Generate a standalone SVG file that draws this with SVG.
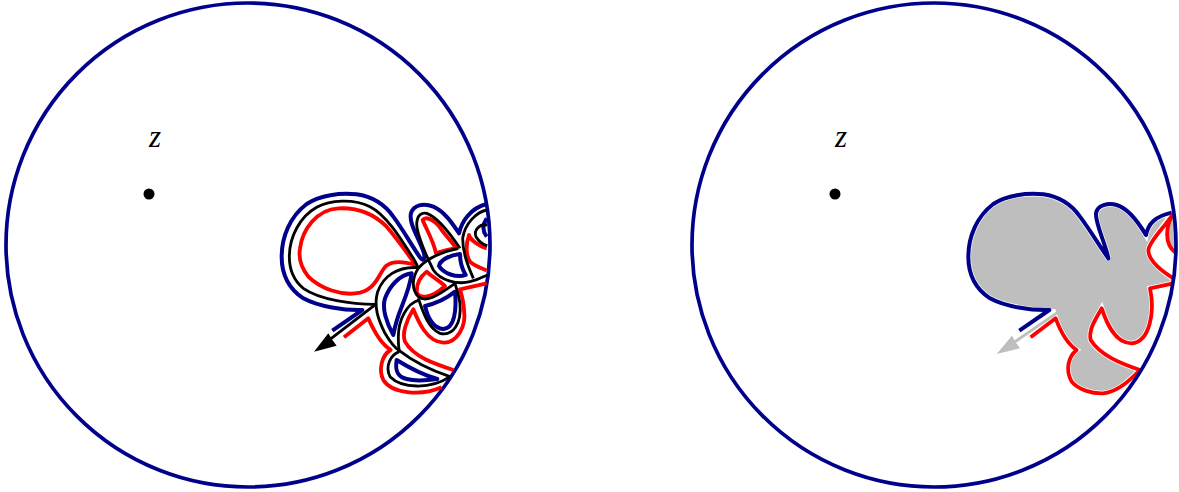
<svg xmlns="http://www.w3.org/2000/svg" width="1179" height="492" viewBox="0 0 1179 492">
<style>
.c{fill:none;stroke:#00008b;stroke-width:3.7}
.b{fill:none;stroke:#00008b;stroke-width:12;stroke-linejoin:round}
.r{fill:none;stroke:#f00;stroke-width:11.5;stroke-linejoin:round}
.k{fill:none;stroke:#000;stroke-width:8.5;stroke-linejoin:round}
.z{font-family:"Liberation Serif",serif;font-style:italic;font-size:31px;fill:#000}
</style>
<g id="left-panel">
<circle class="c" cx="248" cy="245" r="242"/>
<circle cx="149" cy="194" r="5.5"/>
<text class="z" x="149" y="147">z</text>
<g id="left-curves" transform="translate(270 180) scale(.33333)">
<path class="b" d="M187,452L277,390C225,392 145,380 100,355C55,325 35,285 35,230C35,170 60,110 110,72C150,45 210,38 260,43C310,50 345,75 370,110C400,150 430,205 450,232C460,245 466,240 462,220C450,180 415,130 423,100C430,75 460,68 490,80C525,95 550,135 567,160C575,125 600,85 650,72"/>
<path class="b" d="M370,465C350,430 335,385 345,355C360,315 390,285 425,280C420,320 405,355 395,380C385,405 375,435 370,465Z"/>
<path class="b" d="M465,378C475,420 490,445 520,447C555,445 560,385 555,335C530,355 500,370 465,378Z"/>
<path class="b" d="M570,222C540,225 510,240 507,258C520,280 560,295 587,285C575,265 570,245 570,222Z"/>
<path class="b" d="M380,540C375,570 380,590 410,597C440,605 480,600 502,597C460,585 420,565 380,540Z"/>
<path class="b" d="M650,115C640,130 635,150 650,170"/>
<path class="r" d="M222,472L295,415C310,450 330,490 362,510C335,525 325,570 340,600C365,640 450,650 515,622"/>
<path class="r" d="M437,255C410,247 370,240 348,258C325,282 320,325 270,338C215,350 150,325 115,290C95,265 85,235 90,205C97,150 140,88 205,85C265,82 315,105 350,140C385,180 415,225 437,255Z"/>
<path class="r" d="M550,570C490,550 430,530 405,485C395,460 410,420 430,388C445,425 470,485 520,488C560,490 590,440 582,390C582,370 575,345 570,328L650,310"/>
<path class="r" d="M470,275C450,290 440,310 440,335C445,355 480,360 525,318C505,300 485,290 470,275Z"/>
<path class="r" d="M498,220C490,180 465,140 458,120C470,105 500,125 515,150C530,170 550,190 558,205C540,205 515,215 498,220Z"/>
<path class="r" d="M650,205C630,200 600,180 597,165C585,200 590,230 600,245C615,260 640,265 650,272"/>
<path class="k" d="M180,478L317,373C245,372 150,360 100,325C70,300 58,265 58,230C58,170 90,110 140,82C180,60 250,55 300,80C350,105 395,180 430,235C438,248 442,256 445,265"/>
<path class="k" d="M565,205C520,215 470,235 445,265C425,295 425,330 445,350C470,370 505,345 555,310"/>
<path class="k" d="M570,205C540,160 500,110 470,100C440,95 435,130 445,160C455,195 470,230 490,270C510,300 560,315 600,305C625,300 640,290 652,285"/>
<path class="k" d="M447,263C380,258 340,290 323,335C310,380 325,420 345,460C360,485 375,505 388,512C430,545 480,570 540,590"/>
<path class="k" d="M388,515C360,525 345,560 360,590C395,625 480,630 540,590"/>
<path class="k" d="M448,360C410,370 385,420 385,470C385,490 386,505 388,512"/>
<path class="k" d="M445,355C460,400 475,445 510,460C550,470 575,430 570,370C565,340 560,325 555,310"/>
<path class="k" d="M652,90C620,95 585,130 578,175C578,220 595,260 610,295"/>
<path class="k" d="M652,135C630,130 610,150 618,170C630,190 645,195 652,197"/>
<path d="M132,515L175,460Q186,480 200,497Z"/>
</g>
</g>
<g id="right-panel">
<g id="right-curves" transform="translate(960 180) scale(.33333)">
<path d="M280,395C225,392 135,380 90,355C45,325 25,285 25,230C25,170 50,110 100,72C140,45 200,38 250,43C300,50 335,75 360,110C390,150 420,200 445,235C440,200 405,130 408,100C412,75 445,68 470,75C505,85 540,135 558,165C565,130 585,110 635,98C615,140 570,180 565,210C565,240 600,270 640,297L640,310L570,325C585,395 570,485 515,490C465,490 440,430 425,385C405,420 385,450 392,480C420,525 480,550 540,570C510,600 475,635 430,640C400,642 355,630 335,605C315,570 325,530 350,510C320,490 300,450 287,415Z" fill="#bebebe" stroke="#fff" stroke-width="16"/>
<path d="M637,100C618,140 612,190 645,217L650,160Z" fill="#bebebe"/>
<path class="b" d="M178,452L268,390C215,392 135,380 90,355C45,325 25,285 25,230C25,170 50,110 100,72C140,45 200,38 250,43C300,50 335,75 360,110C390,150 420,200 445,235C440,200 405,130 408,100C412,75 445,68 470,75C505,85 540,135 558,165C565,130 585,110 635,98"/>
<path class="r" d="M212,472L287,415C300,450 320,490 350,510C325,530 315,570 335,605C355,630 400,642 430,640C475,635 510,600 540,570C480,550 420,525 392,480C385,450 405,420 425,385C440,430 465,490 515,490C570,485 585,395 570,325L640,310"/>
<path class="r" d="M640,295C600,270 565,240 565,210C570,180 615,140 637,105C618,140 612,190 645,217"/>
<path d="M110,522L156,467Q166,488 180,505Z" fill="#bebebe"/>
<path d="M162,487L292,398" fill="none" stroke="#bebebe" stroke-width="8.5"/>
</g>
<circle class="c" cx="934" cy="245" r="242"/>
<circle cx="835" cy="194" r="5.5"/>
<text class="z" x="835" y="147">z</text>
</g>
</svg>
